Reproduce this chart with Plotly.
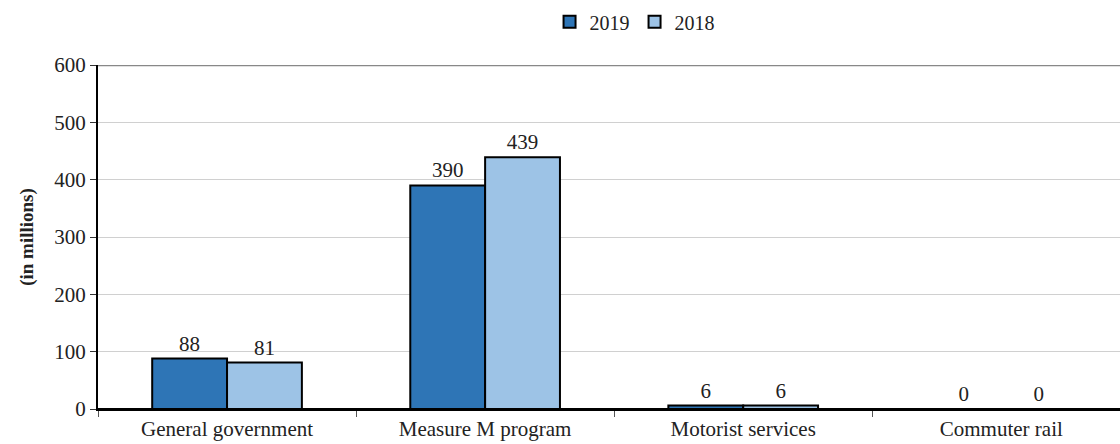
import plotly.graph_objects as go

categories = ["General government", "Measure M program", "Motorist services", "Commuter rail"]
values_2019 = [88, 390, 6, 0]
values_2018 = [81, 439, 6, 0]
y_ticks = [0, 100, 200, 300, 400, 500, 600]

FONT = "Liberation Serif"
FS = 20

fig = go.Figure()
for name, vals, color in (("2019", values_2019, "#2E75B6"), ("2018", values_2018, "#9DC3E6")):
    fig.add_trace(go.Bar(
        name=name, x=categories, y=vals,
        marker=dict(color=color, line=dict(color="black", width=2)),
        text=[str(v) for v in vals], textposition="outside",
        textfont=dict(family=FONT, size=21, color="#222"), cliponaxis=False,
    ))

fig.update_layout(
    width=1120, height=444,
    margin=dict(l=98, r=0, t=65, b=35),
    paper_bgcolor="white", plot_bgcolor="white",
    barmode="group", bargap=0.42, bargroupgap=0,
    font=dict(family=FONT, size=FS, color="#222"),
    legend=dict(orientation="h", x=0.525, xanchor="center", y=0.995, yanchor="top",
                yref="container", font=dict(family=FONT, size=FS, color="#222"),
                itemwidth=30, traceorder="normal"),
    showlegend=True,
)
fig.update_xaxes(
    range=[-0.5, 3.46], showline=True, linecolor="black", linewidth=1.5,
    ticks="outside", tickson="boundaries", ticklen=6, tickcolor="#555",
    showgrid=False, tickfont=dict(family=FONT, size=21, color="#222"),
)
fig.update_yaxes(
    range=[0, 600], tickvals=y_ticks, showline=True, linecolor="black", linewidth=2,
    ticks="outside", ticklen=6, tickcolor="#333",
    showgrid=True, gridcolor="#d0d0d0", gridwidth=1,
    zeroline=True, zerolinecolor="black", zerolinewidth=1.5,
    tickfont=dict(family=FONT, size=21, color="#222"),
    title=dict(text="<b>(in millions)</b>", font=dict(family=FONT, size=19, color="#222"), standoff=16),
)
fig.add_shape(type="line", xref="paper", yref="y", x0=0, x1=1, y0=600, y1=600,
              line=dict(color="#888", width=2.5))

fig.write_html("out.html")
